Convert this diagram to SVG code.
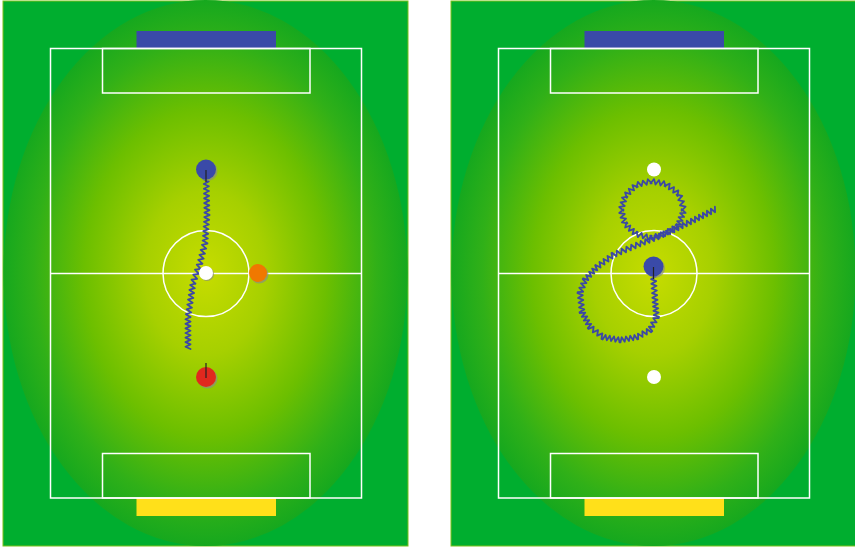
<svg xmlns="http://www.w3.org/2000/svg" width="855" height="547" viewBox="0 0 855 547">
<defs>
<radialGradient id="grass" cx="0.5" cy="0.5" r="0.5">
<stop offset="0" stop-color="#c6dc00"/>
<stop offset="0.3" stop-color="#a6d000"/>
<stop offset="0.6" stop-color="#6cbf00"/>
<stop offset="0.85" stop-color="#30b018"/>
<stop offset="1" stop-color="#16a81e"/>
</radialGradient>
<g id="field">
<rect x="3" y="1" width="405" height="545" fill="#00ae2f" stroke="#7cc21c" stroke-width="1"/>
<ellipse cx="205.5" cy="273" rx="202" ry="273" fill="url(#grass)"/>
<rect x="136.5" y="31" width="139.5" height="17" fill="#3a4aa8"/>
<rect x="136.5" y="498" width="139.5" height="18" fill="#ffe01a"/>
<g fill="none" stroke="#ffffff" stroke-width="1.5">
<rect x="50.5" y="48.5" width="311" height="449.5"/>
<rect x="102.5" y="48.5" width="207.5" height="44.5"/>
<rect x="102.5" y="453.5" width="207.5" height="44.5"/>
<line x1="50.5" y1="273.5" x2="361.5" y2="273.5"/>
<circle cx="206" cy="273.5" r="43"/>
</g>
</g>
</defs>
<style>
.shadow{fill:#8a8f80;opacity:0.7}
.track{fill:none;stroke:#3b48a4;stroke-width:1.8;stroke-linejoin:round;stroke-linecap:round}
.stick{stroke:#222222;stroke-width:1.2}
</style>
<g id="field-left"><use href="#field"/></g>
<g id="field-right"><use href="#field" transform="translate(448,0)"/></g>

<g id="connectors">
<path class="track" d="M208.5,171.94 l-4.944,2.505 5.056,2.273 -4.944,2.505 5.056,2.273 -4.944,2.505 5.056,2.273 -4.944,2.505 5.056,2.273 -4.944,2.505 5.056,2.273 -4.944,2.505 5.056,2.273 -4.944,2.505 5.056,2.273 -4.944,2.505 5.056,2.273 -4.944,2.505 5.056,2.273
L209.49,215.18 l-5.155,1.977 4.821,2.689 -5.155,1.977 4.821,2.689 -5.155,1.977 4.821,2.689 -5.155,1.977 4.821,2.689 -5.155,1.977 4.821,2.689 -5.155,1.977 4.821,2.689
L207.43,243.61 l-5.475,1.288 4.225,3.712 -5.475,1.288 4.225,3.712 -5.475,1.288 4.225,3.712 -5.475,1.288 4.225,3.712
L202.36,263.83 l-5.595,0.848 3.845,4.152 -5.595,0.848 3.845,4.152 -5.595,0.848 3.845,4.152 -5.595,0.848 3.845,4.152
L195.47,283.36 l-5.304,1.701 4.59,3.156 -5.304,1.701 4.59,3.156 -5.304,1.701 4.59,3.156 -5.304,1.701 4.59,3.156 -5.304,1.701 4.59,3.156 -5.304,1.701 4.59,3.156 -5.304,1.701 4.59,3.156
L190.5,317 l-5,2.286 5,2.286 -5,2.286 5,2.286 -5,2.286 5,2.286 -5,2.286 5,2.286 -5,2.286 5,2.286 -5,2.286 5,2.286 -5,2.286 5,2.286"/>
<path class="track" d="M655.49,271.82 l-4.821,2.689 5.155,1.977 -4.821,2.689 5.155,1.977 -4.821,2.689 5.155,1.977 -4.821,2.689 5.155,1.977 -4.821,2.689 5.155,1.977 -4.821,2.689 5.155,1.977
L657.49,299.78 l-4.79,2.564 5.17,1.686 -4.79,2.564 5.17,1.686 -4.79,2.564 5.17,1.686 -4.79,2.564 5.17,1.686
L658.74,318.12 l-5.556,-0.07 3.39,4.404 -5.556,-0.07 3.39,4.404 -5.556,-0.07 3.39,4.404
L651.19,332.2 l-4.538,-3.237 0.204,5.571 -4.538,-3.237 0.204,5.571 -4.538,-3.237 0.204,5.571
L637.43,339.46 l-2.994,-4.55 -1.256,5.3 -2.994,-4.55 -1.256,5.3 -2.994,-4.55 -1.256,5.3 -2.994,-4.55 -1.256,5.3
L619.57,342.46 l-1.256,-5.3 -2.994,4.55 -1.256,-5.3 -2.994,4.55 -1.256,-5.3 -2.994,4.55 -1.256,-5.3 -2.994,4.55
L601.48,338.98 l0.882,-5.63 -5.216,2.296 0.882,-5.63 -5.216,2.296 0.882,-5.63 -5.216,2.296
L587.79,328.18 l3.412,-4.228 -5.412,0.478 3.412,-4.228 -5.412,0.478 3.412,-4.228 -5.412,0.478 3.412,-4.228 -5.412,0.478
L579.51,312.26 l4.724,-2.899 -5.224,-1.851 4.724,-2.899 -5.224,-1.851 4.724,-2.899 -5.224,-1.851 4.724,-2.899 -5.224,-1.851
L577.67,292.1 l5.5,-0.372 -3.834,-3.962 5.5,-0.372 -3.834,-3.962 5.5,-0.372 -3.834,-3.962
L583.16,278.3 l5.174,1.767 -2.174,-5.017 5.174,1.767 -2.174,-5.017 5.174,1.767 -2.174,-5.017 5.174,1.767 -2.174,-5.017
L595.5,265 l5,2.5 -1,-5.5 5,2.5 -1,-5.5 5,2.5 -1,-5.5 5,2.5 -1,-5.5
L612.04,252.69 l4.323,3.615 0.477,-5.615 4.323,3.615 0.477,-5.615 4.323,3.615 0.477,-5.615 4.323,3.615 0.477,-5.615 4.323,3.615 0.477,-5.615
L636.09,242.67 l4.122,3.756 0.478,-5.556 4.122,3.756 0.478,-5.556 4.122,3.756 0.478,-5.556 4.122,3.756 0.478,-5.556 4.122,3.756 0.478,-5.556
L658.79,233.81 l4.678,3.121 -0.178,-5.621 4.678,3.121 -0.178,-5.621 4.678,3.121 -0.178,-5.621 4.678,3.121 -0.178,-5.621
L675.66,225.12 l5.431,-0.245 -3.931,-3.755 5.431,-0.245 -3.931,-3.755 5.431,-0.245 -3.931,-3.755 5.431,-0.245 -3.931,-3.755
L681.61,210.75 l3.94,-4.159 -5.606,-1.175 3.94,-4.159 -5.606,-1.175 3.94,-4.159 -5.606,-1.175
L677.48,195.98 l0.882,-5.63 -5.216,2.296 0.882,-5.63 -5.216,2.296 0.882,-5.63 -5.216,2.296
L665.51,186.45 l-1.52,-5.402 -3.48,4.402 -1.52,-5.402 -3.48,4.402 -1.52,-5.402 -3.48,4.402
L651.64,183.42 l-3.789,-4.166 -1.211,5.5 -3.789,-4.166 -1.211,5.5 -3.789,-4.166 -1.211,5.5
L637.77,186.77 l-5.369,-1.703 1.703,5.369 -5.369,-1.703 1.703,5.369 -5.369,-1.703 1.703,5.369
L627.4,196.69 l-5.475,0.959 4.141,3.707 -5.475,0.959 4.141,3.707 -5.475,0.959 4.141,3.707
L623.4,209.31 l-4.141,3.707 5.475,0.959 -4.141,3.707 5.475,0.959 -4.141,3.707 5.475,0.959
L626.68,222.15 l-1.53,5.366 5.196,-2.032 -1.53,5.366 5.196,-2.032 -1.53,5.366 5.196,-2.032
L636.64,231.58 l1.211,5.5 3.789,-4.166 1.211,5.5 3.789,-4.166 1.211,5.5 3.789,-4.166
L650.25,235.61 l4.159,3.94 1.175,-5.606 4.159,3.94 1.175,-5.606 4.159,3.94 1.175,-5.606
L665.92,230.75 l4.247,3.508 -0.081,-5.508 4.247,3.508 -0.081,-5.508 4.247,3.508 -0.081,-5.508 4.247,3.508 -0.081,-5.508 4.247,3.508 -0.081,-5.508 4.247,3.508 -0.081,-5.508
L690.88,218.76 l4.236,3.472 -0.236,-5.472 4.236,3.472 -0.236,-5.472 4.236,3.472 -0.236,-5.472 4.236,3.472 -0.236,-5.472 4.236,3.472 -0.236,-5.472 4.236,3.472 -0.236,-5.472"/>
</g>

<g id="left-ball"><circle cx="207" cy="274" r="7" class="shadow"/><circle cx="206" cy="273" r="7" fill="#ffffff"/></g>
<g id="left-orange"><circle cx="259.5" cy="274.5" r="9" class="shadow"/><circle cx="258" cy="273" r="9" fill="#f07800"/></g>
<g id="left-blue"><circle cx="207.5" cy="171" r="10" class="shadow"/><circle cx="206" cy="169.5" r="10" fill="#3a4aa8"/><line class="stick" x1="206" y1="170" x2="206" y2="182"/></g>
<g id="left-red"><circle cx="207.5" cy="378.5" r="10" class="shadow"/><circle cx="206" cy="377" r="10" fill="#e0281e"/><line class="stick" x1="206" y1="363" x2="206" y2="378"/></g>

<g id="right-white-top"><circle cx="654" cy="169.5" r="7" fill="#ffffff"/></g>
<g id="right-white-bottom"><circle cx="654" cy="377" r="7" fill="#ffffff"/></g>
<g id="right-blue"><circle cx="655" cy="268" r="10" class="shadow"/><circle cx="653.5" cy="266.5" r="10" fill="#3a4aa8"/><line class="stick" x1="653.5" y1="267" x2="653.5" y2="279"/></g>
</svg>
